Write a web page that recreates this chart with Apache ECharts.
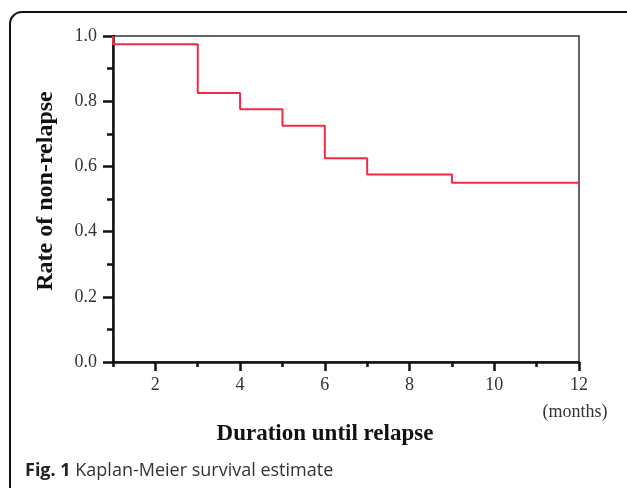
<!DOCTYPE html>
<html>
<head>
<meta charset="utf-8">
<script src="https://cdn.jsdelivr.net/npm/echarts@6/dist/echarts.min.js"></script>
<style>
  html, body { margin: 0; padding: 0; background: #fff; }
  #chart { width: 627px; height: 488px; }
</style>
</head>
<body>
<div id="chart"></div>
<script>
// Kaplan-Meier data (months, rate of non-relapse)
var months = [1, 1, 3, 4, 5, 6, 7, 9, 12];
var survival = [1.0, 0.975, 0.825, 0.775, 0.725, 0.625, 0.575, 0.55, 0.55];
var xLabelTicks = [2, 4, 6, 8, 10, 12];
var xMinorTicks = [1, 3, 5, 7, 9, 11];

var serif = '"Liberation Serif", "Times New Roman", serif';

var chart = echarts.init(document.getElementById('chart'));

var points = [];
for (var i = 0; i < months.length; i++) {
  points.push([months[i], survival[i]]);
}

var option = {
  animation: false,
  grid: {
    left: 113,
    top: 36,
    right: 48,
    bottom: 126,
    show: true,
    borderColor: '#333',
    borderWidth: 1.5
  },
  xAxis: [{
    type: 'value',
    min: 1,
    max: 12,
    position: 'bottom',
    splitLine: { show: false },
    axisLine: { lineStyle: { color: '#111', width: 2.5 } },
    axisTick: {
      customValues: xLabelTicks,
      length: 9,
      lineStyle: { color: '#111', width: 2.5 }
    },
    axisLabel: {
      customValues: xLabelTicks,
      margin: 14,
      fontFamily: serif,
      fontSize: 18,
      color: '#333'
    }
  }, {
    type: 'value',
    min: 1,
    max: 12,
    position: 'bottom',
    splitLine: { show: false },
    axisLine: { show: false },
    axisTick: {
      customValues: xMinorTicks,
      length: 5,
      lineStyle: { color: '#111', width: 2.5 }
    },
    axisLabel: { show: false }
  }],
  yAxis: {
    type: 'value',
    min: 0,
    max: 1,
    interval: 0.2,
    splitLine: { show: false },
    axisLine: { show: true, lineStyle: { color: '#111', width: 2.5 } },
    axisTick: { show: true, length: 10, lineStyle: { color: '#111', width: 2.5 } },
    minorTick: { show: true, splitNumber: 2, length: 6, lineStyle: { color: '#111', width: 2.5 } },
    axisLabel: {
      margin: 16,
      fontFamily: serif,
      fontSize: 18,
      color: '#333',
      formatter: function (v) { return v.toFixed(1); }
    }
  },
  series: [{
    type: 'line',
    step: 'end',
    data: points,
    symbol: 'none',
    lineStyle: { color: '#f02a45', width: 2 }
  }],
  graphic: [{
    type: 'rect',
    shape: { x: 10, y: 12, width: 640, height: 520, r: 12 },
    style: { fill: 'none', stroke: '#111', lineWidth: 2 },
    silent: true
  }, {
    type: 'text',
    x: 46,
    y: 191,
    rotation: Math.PI / 2,
    style: {
      text: 'Rate of non-relapse',
      font: 'bold 24px ' + serif,
      fill: '#111',
      align: 'center',
      verticalAlign: 'middle'
    }
  }, {
    type: 'text',
    x: 325,
    y: 434,
    style: {
      text: 'Duration until relapse',
      font: 'bold 23px ' + serif,
      fill: '#111',
      align: 'center',
      verticalAlign: 'middle'
    }
  }, {
    type: 'text',
    x: 575,
    y: 412,
    style: {
      text: '(months)',
      font: '18px ' + serif,
      fill: '#333',
      align: 'center',
      verticalAlign: 'middle'
    }
  }, {
    type: 'text',
    x: 25,
    y: 471,
    style: {
      text: '{b|Fig. 1} Kaplan-Meier survival estimate',
      font: '18px "Open Sans", sans-serif',
      fill: '#333',
      verticalAlign: 'middle',
      rich: {
        b: { fontFamily: '"Open Sans", sans-serif', fontSize: 18, fontWeight: 'bold', fill: '#222' }
      }
    }
  }]
};

chart.setOption(option);
</script>
</body>
</html>
